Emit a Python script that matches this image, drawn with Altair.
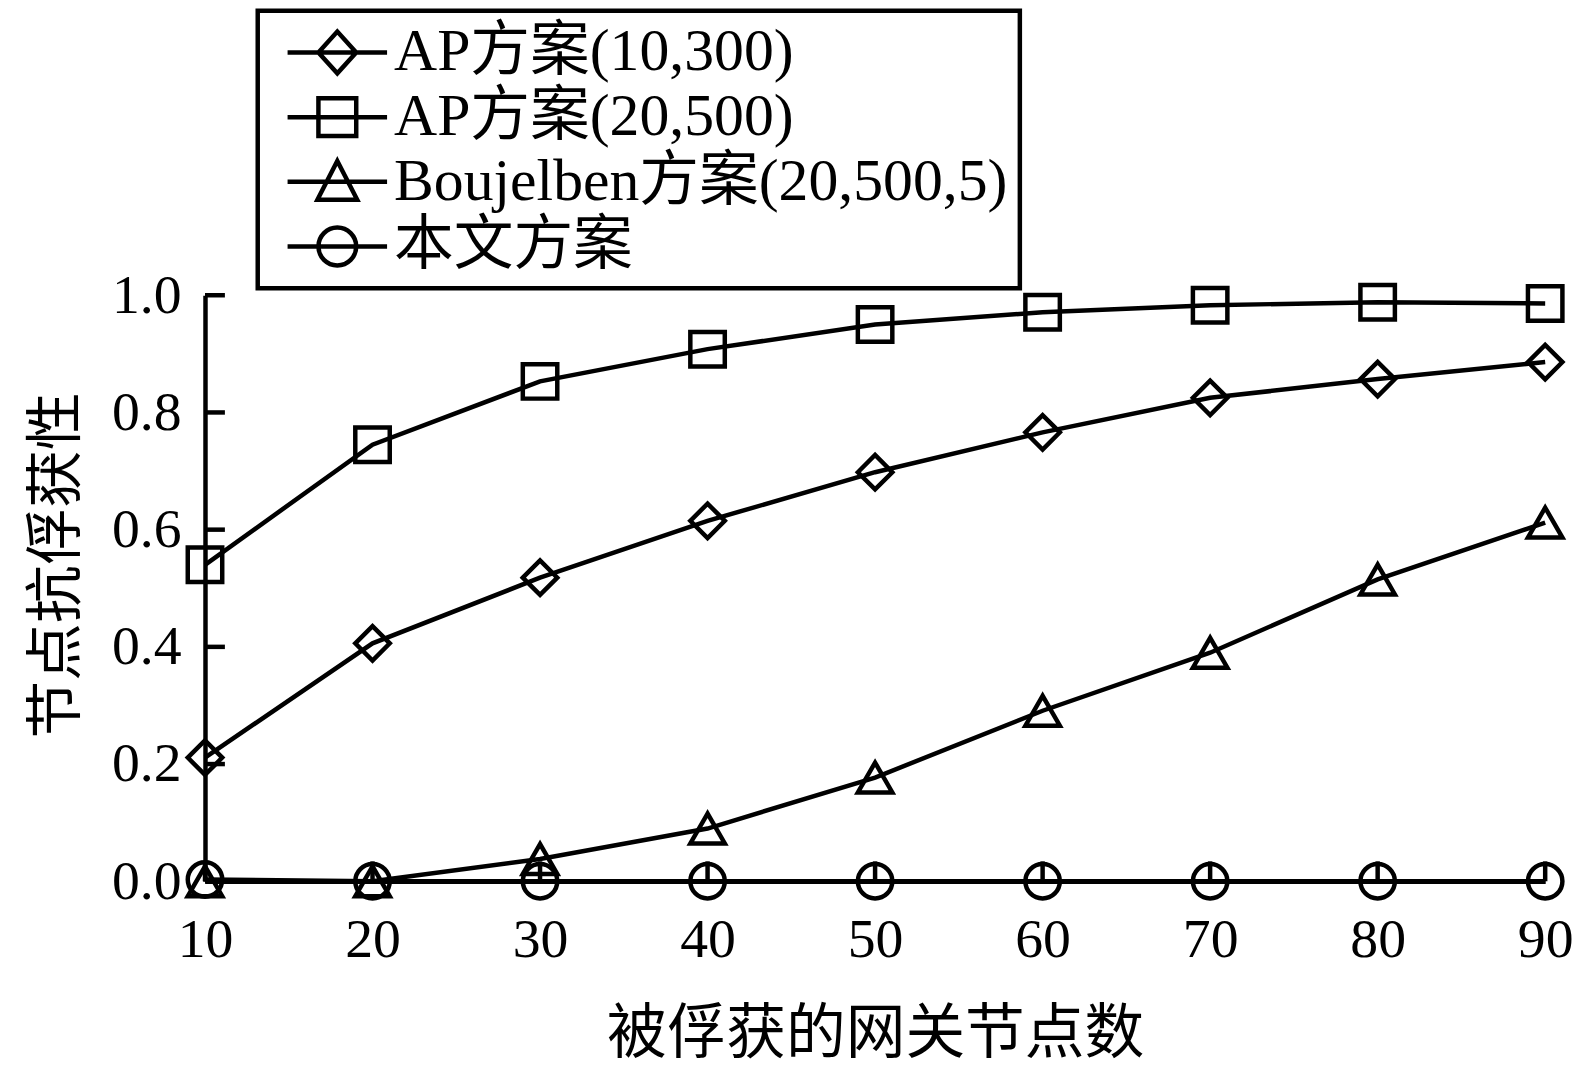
import altair as alt
import pandas as pd

# ---- data ----
x_vals = [10, 20, 30, 40, 50, 60, 70, 80, 90]
series_names = ["AP方案(10,300)", "AP方案(20,500)", "Boujelben方案(20,500,5)", "本文方案"]
ap_10_300 = [0.211, 0.406, 0.518, 0.615, 0.698, 0.766, 0.825, 0.857, 0.886]
ap_20_500 = [0.540, 0.745, 0.853, 0.908, 0.950, 0.971, 0.983, 0.988, 0.986]
boujelben = [0.000, 0.000, 0.038, 0.090, 0.177, 0.291, 0.390, 0.515, 0.612]
ours = [0.003, 0.000, 0.000, 0.000, 0.000, 0.000, 0.000, 0.000, 0.000]
y_ticks = [0.0, 0.2, 0.4, 0.6, 0.8, 1.0]
x_ticks = [10, 20, 30, 40, 50, 60, 70, 80, 90]

marker_shapes = ["diamond", "square", "triangle-up", "circle"]
legend_shapes = [
    "M-2.5,0L2.5,0M-0.95,0L0,-1.05L0.95,0L0,1.05Z",
    "M-2.5,0L2.5,0M-0.95,-0.95L0.95,-0.95L0.95,0.95L-0.95,0.95Z",
    "M-2.5,0L2.5,0M0,-1.05L1.0,0.9L-1.0,0.9Z",
    "M-2.5,0L2.5,0M0.95,0A0.95,0.95,0,1,1,-0.95,0A0.95,0.95,0,1,1,0.95,0Z",
]

rows = []
for name, vals in zip(series_names, [ap_10_300, ap_20_500, boujelben, ours]):
    for i, (xv, yv) in enumerate(zip(x_vals, vals)):
        rows.append({"x": xv, "y": yv, "series": name, "order": i})
df = pd.DataFrame(rows)
df_yt = pd.DataFrame({"x": [10] * len(y_ticks), "y": y_ticks})
df_xt = pd.DataFrame({"x": x_ticks, "y": [0.0] * len(x_ticks)})

W, H = 1347, 589
NUM_FONT = "Liberation Serif"
CJK_FONT = "Noto Sans CJK SC"
MIX_FONT = "Liberation Serif, Noto Sans CJK SC"

xscale = alt.Scale(domain=[10, 90], nice=False, zero=False)
yscale = alt.Scale(domain=[0, 1], nice=False)

x_axis = alt.Axis(
    values=x_ticks, title="被俘获的网关节点数", grid=False, ticks=False,
    domainWidth=4.5, domainColor="black", labelFont=NUM_FONT, labelFontSize=56,
    labelColor="black", labelPadding=32, labelFlush=False, labelOverlap=False,
    titleFont=CJK_FONT, titleFontSize=60, titleFontWeight="normal", titleColor="black",
    titleY=172, titleBaseline="alphabetic",
)
y_axis = alt.Axis(
    values=y_ticks, format=".1f", title="节点抗俘获性", grid=False, ticks=False,
    domainWidth=4.5, domainColor="black", labelFont=NUM_FONT, labelFontSize=56,
    labelColor="black", labelPadding=24, labelOverlap=False, labelFlush=False,
    titleFont=CJK_FONT, titleFontSize=58, titleFontWeight="normal", titleColor="black",
    titleAngle=270, titleX=-131, titleY=271, titleAlign="center", titleBaseline="alphabetic",
)

X = alt.X("x:Q", scale=xscale, axis=x_axis)
Y = alt.Y("y:Q", scale=yscale, axis=y_axis)

base = alt.Chart(df)

lines = base.mark_line(color="black", strokeWidth=4.5).encode(
    x=X, y=Y, detail="series:N", order="order:Q",
)

points = base.mark_point(filled=False, color="black", strokeWidth=4.5, size=1200, opacity=1).encode(
    x=X, y=Y,
    shape=alt.Shape("series:N", scale=alt.Scale(domain=series_names, range=marker_shapes), legend=None),
)

legend_layer = base.transform_filter("false").mark_point(
    filled=False, color="black", strokeWidth=4.5, opacity=1
).encode(
    x=X, y=Y,
    shape=alt.Shape(
        "series:N",
        scale=alt.Scale(domain=series_names, range=legend_shapes),
        legend=alt.Legend(
            title=None, orient="none", legendX=53, legendY=-286, padding=12,
            strokeColor="black", symbolStrokeColor="black", symbolStrokeWidth=4.5,
            symbolFillColor="transparent", symbolSize=1600, symbolOffset=38,
            symbolOpacity=1,
            labelFont=MIX_FONT, labelFontSize=60, labelColor="black", labelLimit=1200,
            labelOffset=27, rowPadding=5, labelBaseline="middle",
        ),
    ),
)

# inward-pointing ticks (drawn as short rules from the axis line)
ytick_rules = alt.Chart(df_yt).mark_rule(color="black", strokeWidth=4.5).encode(
    y=Y,
    x=alt.value(0),
    x2=alt.value(20),
)
xtick_rules = alt.Chart(df_xt).mark_rule(color="black", strokeWidth=4.5).encode(
    x=X,
    y=alt.value(H),
    y2=alt.value(H - 20),
)

chart = (
    alt.layer(lines, ytick_rules, xtick_rules, points, legend_layer)
    .resolve_scale(shape="independent")
    .properties(
        width=W, height=H,
        autosize=alt.AutoSizeParams(type="none"),
        padding={"left": 198, "top": 286, "right": 35, "bottom": 189},
        background="white",
    )
    .configure_view(stroke=None)
    .configure_legend(strokeWidth=4.5)
)

chart.save("out.html", embed_options={"renderer": "svg", "actions": False})
